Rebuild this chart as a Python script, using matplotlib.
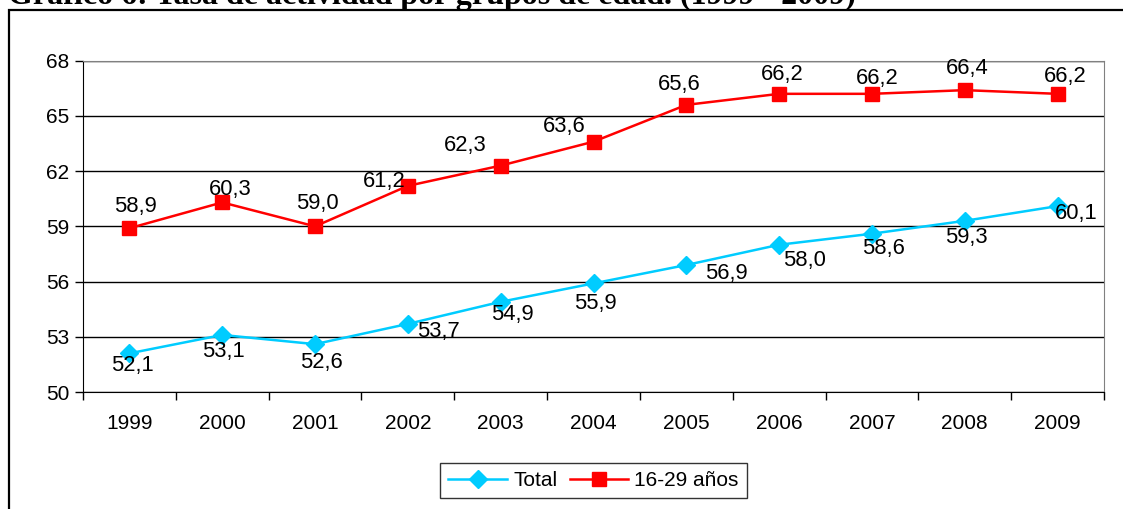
import matplotlib.pyplot as plt
from matplotlib.patches import Rectangle
import numpy as np

plt.rcParams['font.family'] = ['Liberation Sans', 'DejaVu Sans']

years = ["1999", "2000", "2001", "2002", "2003", "2004", "2005", "2006", "2007", "2008", "2009"]
total = [52.1, 53.1, 52.6, 53.7, 54.9, 55.9, 56.9, 58.0, 58.6, 59.3, 60.1]
jovenes = [58.9, 60.3, 59.0, 61.2, 62.3, 63.6, 65.6, 66.2, 66.2, 66.4, 66.2]

# label offsets in pixels (dx, dy) as placed in the original
off_total = [(3, -12), (1, -17), (6, -18), (31, -8), (12, -13), (2, -20),
             (40, -8), (25, -16), (12, -15), (2, -17), (19, -7)]
off_jov = [(6, 22), (8, 13), (2, 23), (-24, 4), (-35, 20), (-29, 15),
           (-7, 20), (3, 19), (5, 15), (2, 22), (8, 17)]

W, H = 1123, 509
fig = plt.figure(figsize=(W/100, H/100), dpi=100)

# outer frame of the chart object
fig.patches.append(Rectangle((9/W, -0.1), 1.2, (H - 10)/H + 0.1, transform=fig.transFigure,
                             fill=False, edgecolor="black", lw=1.6))
fig.text(8/W, 1 - 4/H, "Gráfico 6: Tasa de actividad por grupos de edad. (1999 - 2009)",
         family="Liberation Serif", weight="bold", fontsize=23, va="baseline", ha="left")

ax = fig.add_axes([83/W, 1 - 392/H, (1104 - 83)/W, (392 - 60.7)/H])

x = np.arange(len(years))
c_tot = "#00CCFF"
c_jov = "#FF0000"
ax.plot(x, total, color=c_tot, lw=1.8, marker="D", ms=9.5, label="Total", zorder=3)
ax.plot(x, jovenes, color=c_jov, lw=1.8, marker="s", ms=10, label="16-29 años", zorder=3)

for xi, v, (dx, dy) in zip(x, total, off_total):
    ax.annotate(f"{v:.1f}".replace(".", ","), (xi, v), xytext=(dx*0.72, dy*0.72),
                textcoords="offset points", ha="center", va="center", fontsize=15.8)
for xi, v, (dx, dy) in zip(x, jovenes, off_jov):
    ax.annotate(f"{v:.1f}".replace(".", ","), (xi, v), xytext=(dx*0.72, dy*0.72),
                textcoords="offset points", ha="center", va="center", fontsize=15.8)

ax.set_xlim(-0.5, len(years) - 0.5)
ax.set_ylim(50, 68)
ax.set_yticks(np.arange(50, 69, 3))
ax.set_xticks(x)
ax.set_xticklabels(years)
ax.set_xticks(np.arange(-0.5, len(years), 1), minor=True)
ax.tick_params(axis="x", which="major", length=0, pad=16, labelsize=15)
ax.tick_params(axis="x", which="minor", length=6, direction="out", width=1)
ax.tick_params(axis="y", length=6, direction="out", width=1, labelsize=15, pad=4)
ax.yaxis.grid(True, color="#000000", lw=1)
ax.set_axisbelow(True)
ax.spines["left"].set_color("black")
ax.spines["bottom"].set_color("black")
ax.spines["top"].set_color("#808080")
ax.spines["right"].set_color("#808080")

leg = fig.legend(loc="center", bbox_to_anchor=(593.5/W, 1 - 480.5/H), ncol=2, fontsize=15,
                 frameon=True, fancybox=False, edgecolor="black", handlelength=2.8,
                 columnspacing=0.6, handletextpad=0.3, borderpad=0.4, borderaxespad=0)
leg.get_frame().set_linewidth(1)

fig.savefig("out.png", dpi=100)
